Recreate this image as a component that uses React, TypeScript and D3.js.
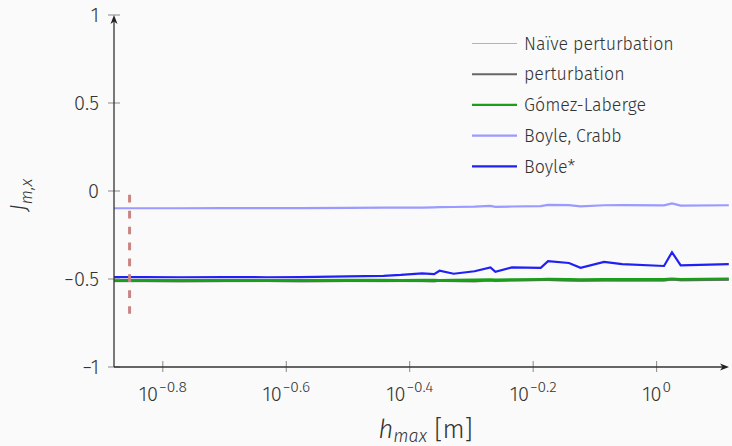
import React from "react";
import * as d3 from "d3";

// mesh size h_max [m]
const hValues = [
  0.1321, 0.148, 0.169, 0.1995, 0.234, 0.265, 0.316, 0.361, 0.385, 0.417,
  0.436, 0.445, 0.469, 0.507, 0.538, 0.548, 0.583, 0.649, 0.667, 0.721,
  0.753, 0.822, 0.879, 1.028, 1.059, 1.094, 1.309,
];

const naivePerturbation = [
  -0.516, -0.516, -0.517, -0.516, -0.515, -0.517, -0.515, -0.516, -0.515, -0.516,
  -0.517, -0.514, -0.516, -0.517, -0.513, -0.515, -0.512, -0.510, -0.509, -0.513,
  -0.514, -0.512, -0.513, -0.512, -0.507, -0.511, -0.508,
];
const perturbation = [
  -0.512, -0.512, -0.513, -0.512, -0.511, -0.513, -0.511, -0.512, -0.511, -0.512,
  -0.513, -0.510, -0.512, -0.513, -0.509, -0.511, -0.508, -0.506, -0.505, -0.509,
  -0.510, -0.508, -0.509, -0.508, -0.503, -0.507, -0.504,
];
const gomezLaberge = [
  -0.507, -0.507, -0.508, -0.507, -0.507, -0.507, -0.506, -0.506, -0.507, -0.506,
  -0.506, -0.507, -0.506, -0.505, -0.503, -0.505, -0.503, -0.501, -0.500, -0.502,
  -0.503, -0.502, -0.502, -0.502, -0.499, -0.501, -0.499,
];
const boyleCrabb = [
  -0.098, -0.098, -0.098, -0.097, -0.097, -0.097, -0.096, -0.095, -0.095, -0.094,
  -0.093, -0.092, -0.091, -0.089, -0.085, -0.090, -0.088, -0.086, -0.079, -0.080,
  -0.087, -0.081, -0.080, -0.082, -0.070, -0.083, -0.081,
];
const boyleStar = [
  -0.489, -0.489, -0.490, -0.489, -0.490, -0.489, -0.485, -0.482, -0.477, -0.468,
  -0.472, -0.453, -0.470, -0.456, -0.434, -0.459, -0.434, -0.437, -0.399, -0.409,
  -0.436, -0.403, -0.416, -0.426, -0.348, -0.422, -0.416,
];

const seriesNames = ["Naïve perturbation", "perturbation", "Gómez-Laberge", "Boyle, Crabb", "Boyle*"];
const seriesValues = [naivePerturbation, perturbation, gomezLaberge, boyleCrabb, boyleStar];
const seriesColors = ["#b4b4b4", "#666666", "#18a018", "#9a9aff", "#2020f4"];
const seriesWidths = [1, 2, 2.6, 2.2, 2.2];

const xTickExps = [-0.8, -0.6, -0.4, -0.2, 0];
const xTickLabels = ["−0.8", "−0.6", "−0.4", "−0.2", "0"];
const yTicks = [-1, -0.5, 0, 0.5, 1];
const yTickLabels = ["−1", "−0.5", "0", "0.5", "1"];

// vertical marker
const markerH = 0.14;
const markerRange = [-0.022, -0.7];

const xDomain = [0.1321, 1.31];

const W = 732;
const H = 446;
const font = "'Fira Sans', 'Open Sans', 'Noto Sans', sans-serif";
const textColor = "#333";

export default function App() {
  const x = d3.scaleLog().domain(xDomain).range([114, 729]);
  const y = d3.scaleLinear().domain([-1, 1]).range([367, 15]);

  const line = d3
    .line<[number, number]>()
    .x((d) => x(d[0]))
    .y((d) => y(d[1]));

  const x0 = x.range()[0];
  const x1 = x.range()[1];
  const yBottom = y(-1);
  const yTop = y(1);

  return (
    <svg
      width={W}
      height={H}
      style={{ position: "absolute", left: 0, top: 0, background: "#fafafa" }}
      fontFamily={font}
    >
      <rect width={W} height={H} fill="#fafafa" />

      {/* series */}
      {seriesValues.map((vals, i) => (
        <path
          key={seriesNames[i]}
          d={line(hValues.map((h, j) => [h, vals[j]] as [number, number])) || ""}
          fill="none"
          stroke={seriesColors[i]}
          strokeWidth={seriesWidths[i]}
          strokeLinejoin="miter"
        />
      ))}

      {/* dashed marker */}
      <line
        x1={x(markerH)}
        x2={x(markerH)}
        y1={y(markerRange[0])}
        y2={y(markerRange[1])}
        stroke="#c98585"
        strokeWidth={3}
        strokeDasharray="7.7 8.2"
      />

      {/* y axis */}
      {yTicks.map((t, i) => (
        <g key={t}>
          <line x1={x0 - 6} x2={x0 + 6} y1={y(t)} y2={y(t)} stroke="#888" strokeWidth={1} />
          <text
            x={99}
            y={y(t)}
            dy="0.36em"
            textAnchor="end"
            fontSize={20}
            fontWeight={300}
            fill={textColor}
          >
            {yTickLabels[i]}
          </text>
        </g>
      ))}
      <line x1={x0} x2={x0} y1={yBottom} y2={yTop + 3} stroke="#333" strokeWidth={1.3} />
      <path d={`M${x0},${yTop} L${x0 - 3.5},${yTop + 9} L${x0},${yTop + 6.5} L${x0 + 3.5},${yTop + 9} Z`} fill="#222" />

      {/* x axis */}
      {xTickExps.map((e, i) => (
        <g key={e}>
          <line x1={x(Math.pow(10, e))} x2={x(Math.pow(10, e))} y1={yBottom - 6} y2={yBottom + 5} stroke="#888" strokeWidth={1} />
          <text x={x(Math.pow(10, e))} y={401} textAnchor="middle" fontSize={20} fontWeight={300} fill={textColor}>
            10
            <tspan fontSize={15.5} dy={-9} dx={1}>
              {xTickLabels[i]}
            </tspan>
          </text>
        </g>
      ))}
      <line x1={x0} x2={x1 - 3} y1={yBottom} y2={yBottom} stroke="#333" strokeWidth={1.3} />
      <path d={`M${x1},${yBottom} L${x1 - 9},${yBottom - 3.5} L${x1 - 6.5},${yBottom} L${x1 - 9},${yBottom + 3.5} Z`} fill="#222" />

      {/* axis labels */}
      <text x={(x0 + x1) / 2 + 4} y={438} textAnchor="middle" fontSize={26} fontWeight={300} fill={textColor}>
        <tspan fontStyle="italic">h</tspan>
        <tspan fontStyle="italic" fontSize={18} dy={4}>max</tspan>
        <tspan dy={-4}> [m]</tspan>
      </text>
      <text
        transform={`translate(27, ${y(0) + 4}) rotate(-90)`}
        textAnchor="middle"
        fontSize={24}
        fontWeight={300}
        fill={textColor}
      >
        <tspan fontStyle="italic">J</tspan>
        <tspan fontStyle="italic" fontSize={17} dy={5}>m,x</tspan>
      </text>

      {/* legend */}
      {seriesNames.map((name, i) => {
        const ly = 43.5 + i * 30.7;
        return (
          <g key={name}>
            <line x1={472} x2={517} y1={ly} y2={ly} stroke={seriesColors[i]} strokeWidth={Math.min(seriesWidths[i], 2.2)} />
            <text x={524} y={ly} dy="0.35em" fontSize={17.8} fontWeight={300} fill={textColor}>
              {name}
            </text>
          </g>
        );
      })}
    </svg>
  );
}
